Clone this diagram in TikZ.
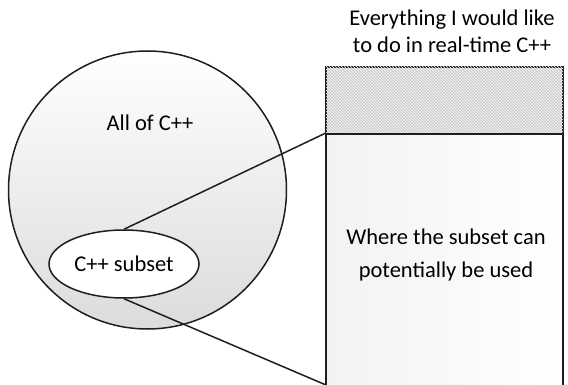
\documentclass[tikz,border=0pt]{standalone}
\usepackage{fontspec}
\setmainfont{Carlito}
\usetikzlibrary{patterns, shapes.geometric, positioning}
\definecolor{edgegray}{RGB}{30,30,30}
\definecolor{hatchgray}{RGB}{205,205,205}

\begin{document}
\begin{tikzpicture}[
    x=1pt, y=-1pt,
    outline/.style={draw=edgegray, line width=1.5pt},
    textlabel/.style={font=\fontsize{22.5}{27}\selectfont, align=center},
    link/.style={draw=edgegray, line width=1.5pt}
]
    \useasboundingbox (0,0) rectangle (568,385);

    % All of C++
    \node[outline, circle, minimum size=278pt, top color=white, bottom color=gray!28] (all) at (147.5,190) {};
    \node[textlabel] (alltext) at (150,123) {All of C++};

    % Real-time wishes
    \node[outline, rectangle, minimum width=237pt, minimum height=67pt, fill=hatchgray,
          postaction={pattern=north west lines, pattern color=white}] (wish) at (444.5,100.5) {};
    \node[outline, rectangle, minimum width=237pt, minimum height=262pt, left color=gray!10, right color=white] (use) at (444.5,265) {};
    \node[textlabel] (title) at (452,31) {Everything I would like\\to do in real-time C++};
    \node[textlabel] (usetext) at (446,255) {Where the subset can\\[6pt]potentially be used};

    % Subset
    \node[outline, ellipse, minimum width=146pt, minimum height=68pt, fill=white, textlabel] (sub) at (124,264) {C++ subset};

    % Zoom lines
    \coordinate (bot) at (326,385);
    \draw[link] (sub.north) -- (use.north west);
    \draw[link] (sub.south) -- (bot);
\end{tikzpicture}
\end{document}
